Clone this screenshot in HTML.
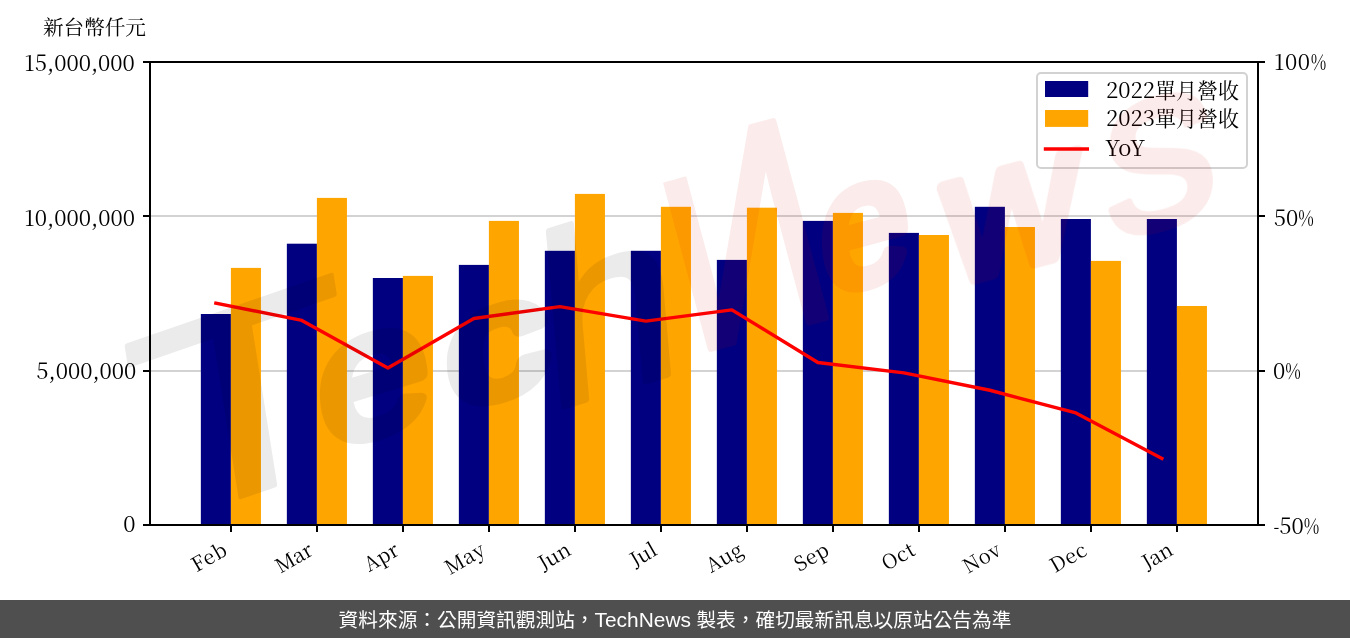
<!DOCTYPE html>
<html lang="zh-Hant"><head><meta charset="utf-8"><title>TechNews chart</title>
<style>
html,body{margin:0;padding:0;background:#fff;}
body{width:1350px;height:638px;overflow:hidden;position:relative;}
svg{position:absolute;left:0;top:0;display:block;}
svg text{font-family:'Noto Serif CJK SC','Liberation Serif',serif;fill:#000;}
.lat{font-size:22.0px;} .cjk{font-size:20.6px;}
#footer{position:absolute;left:0;top:600px;width:1350px;height:38px;background:#4f4f4f;color:#fff;text-align:center;font-family:'Liberation Sans','Noto Sans CJK TC',sans-serif;font-size:19.7px;line-height:40px;white-space:nowrap;}
</style></head><body>
<svg width="1350" height="600" viewBox="0 0 1350 600">
<line x1="150.0" x2="1258.0" y1="371.00" y2="371.00" stroke="#d3d3d3" stroke-width="2"/>
<line x1="150.0" x2="1258.0" y1="216.00" y2="216.00" stroke="#d3d3d3" stroke-width="2"/>
<rect x="200.85" y="314" width="30.05" height="211.00" fill="#000080"/>
<rect x="230.90" y="267.9" width="30.05" height="257.10" fill="#ffa500"/>
<rect x="286.85" y="243.7" width="30.05" height="281.30" fill="#000080"/>
<rect x="316.90" y="197.9" width="30.05" height="327.10" fill="#ffa500"/>
<rect x="372.85" y="278" width="30.05" height="247.00" fill="#000080"/>
<rect x="402.90" y="275.9" width="30.05" height="249.10" fill="#ffa500"/>
<rect x="458.85" y="264.9" width="30.05" height="260.10" fill="#000080"/>
<rect x="488.90" y="220.9" width="30.05" height="304.10" fill="#ffa500"/>
<rect x="544.85" y="250.8" width="30.05" height="274.20" fill="#000080"/>
<rect x="574.90" y="193.9" width="30.05" height="331.10" fill="#ffa500"/>
<rect x="630.85" y="250.8" width="30.05" height="274.20" fill="#000080"/>
<rect x="660.90" y="206.8" width="30.05" height="318.20" fill="#ffa500"/>
<rect x="716.85" y="259.9" width="30.05" height="265.10" fill="#000080"/>
<rect x="746.90" y="207.7" width="30.05" height="317.30" fill="#ffa500"/>
<rect x="802.85" y="220.9" width="30.05" height="304.10" fill="#000080"/>
<rect x="832.90" y="212.9" width="30.05" height="312.10" fill="#ffa500"/>
<rect x="888.85" y="232.9" width="30.05" height="292.10" fill="#000080"/>
<rect x="918.90" y="235" width="30.05" height="290.00" fill="#ffa500"/>
<rect x="974.85" y="206.8" width="30.05" height="318.20" fill="#000080"/>
<rect x="1004.90" y="227" width="30.05" height="298.00" fill="#ffa500"/>
<rect x="1060.85" y="219" width="30.05" height="306.00" fill="#000080"/>
<rect x="1090.90" y="260.9" width="30.05" height="264.10" fill="#ffa500"/>
<rect x="1146.85" y="219" width="30.05" height="306.00" fill="#000080"/>
<rect x="1176.90" y="306" width="30.05" height="219.00" fill="#ffa500"/>
<polyline fill="none" stroke="#ff0000" stroke-width="3.4" stroke-linejoin="round" stroke-linecap="square" points="215.88,303.23 301.88,320.41 387.88,368.04 473.88,318.45 559.88,306.61 645.88,321.14 731.88,309.89 817.88,362.55 903.88,372.89 989.88,390.26 1075.88,412.93 1161.88,458.42"/>
<rect x="150.0" y="62.0" width="1108.0" height="463.0" fill="none" stroke="#000" stroke-width="2"/>
<line x1="231.00" x2="231.00" y1="526.0" y2="532.0" stroke="#000" stroke-width="2"/>
<line x1="317.00" x2="317.00" y1="526.0" y2="532.0" stroke="#000" stroke-width="2"/>
<line x1="403.00" x2="403.00" y1="526.0" y2="532.0" stroke="#000" stroke-width="2"/>
<line x1="489.00" x2="489.00" y1="526.0" y2="532.0" stroke="#000" stroke-width="2"/>
<line x1="575.00" x2="575.00" y1="526.0" y2="532.0" stroke="#000" stroke-width="2"/>
<line x1="661.00" x2="661.00" y1="526.0" y2="532.0" stroke="#000" stroke-width="2"/>
<line x1="747.00" x2="747.00" y1="526.0" y2="532.0" stroke="#000" stroke-width="2"/>
<line x1="833.00" x2="833.00" y1="526.0" y2="532.0" stroke="#000" stroke-width="2"/>
<line x1="919.00" x2="919.00" y1="526.0" y2="532.0" stroke="#000" stroke-width="2"/>
<line x1="1005.00" x2="1005.00" y1="526.0" y2="532.0" stroke="#000" stroke-width="2"/>
<line x1="1091.00" x2="1091.00" y1="526.0" y2="532.0" stroke="#000" stroke-width="2"/>
<line x1="1177.00" x2="1177.00" y1="526.0" y2="532.0" stroke="#000" stroke-width="2"/>
<line x1="143.0" x2="149.0" y1="525.00" y2="525.00" stroke="#000" stroke-width="2"/>
<line x1="1259.0" x2="1265.0" y1="525.00" y2="525.00" stroke="#000" stroke-width="2"/>
<text class="lat" x="135.5" y="532.30" text-anchor="end">0</text>
<text class="lat" x="1273.5" y="534.40"><tspan><tspan textLength="5.8" lengthAdjust="spacingAndGlyphs">-</tspan>50</tspan><tspan textLength="15.6" lengthAdjust="spacingAndGlyphs">%</tspan></text>
<line x1="143.0" x2="149.0" y1="371.00" y2="371.00" stroke="#000" stroke-width="2"/>
<line x1="1259.0" x2="1265.0" y1="371.00" y2="371.00" stroke="#000" stroke-width="2"/>
<text class="lat" x="136.4" y="378.60" text-anchor="end">5,000,000</text>
<text class="lat" x="1273.0" y="379.40"><tspan>0</tspan><tspan textLength="15.6" lengthAdjust="spacingAndGlyphs">%</tspan></text>
<line x1="143.0" x2="149.0" y1="216.00" y2="216.00" stroke="#000" stroke-width="2"/>
<line x1="1259.0" x2="1265.0" y1="216.00" y2="216.00" stroke="#000" stroke-width="2"/>
<text class="lat" x="134.9" y="225.50" text-anchor="end">10,000,000</text>
<text class="lat" x="1273.8" y="225.70"><tspan>50</tspan><tspan textLength="15.6" lengthAdjust="spacingAndGlyphs">%</tspan></text>
<line x1="143.0" x2="149.0" y1="62.00" y2="62.00" stroke="#000" stroke-width="2"/>
<line x1="1259.0" x2="1265.0" y1="62.00" y2="62.00" stroke="#000" stroke-width="2"/>
<text class="lat" x="134.9" y="71.10" text-anchor="end">15,000,000</text>
<text class="lat" x="1273.9" y="70.10"><tspan letter-spacing="0.65">100</tspan><tspan textLength="15.6" lengthAdjust="spacingAndGlyphs">%</tspan></text>
<text transform="translate(229.28,553.55) rotate(-30)" font-size="20" text-anchor="end" letter-spacing="0.9">Feb</text>
<text transform="translate(314.50,554.00) rotate(-30)" font-size="20" text-anchor="end">Mar</text>
<text transform="translate(400.76,553.85) rotate(-30)" font-size="20" text-anchor="end" letter-spacing="0.3">Apr</text>
<text transform="translate(487.02,553.70) rotate(-30)" font-size="20" text-anchor="end" letter-spacing="0.6">May</text>
<text transform="translate(572.50,554.00) rotate(-30)" font-size="20" text-anchor="end">Jun</text>
<text transform="translate(658.50,554.00) rotate(-30)" font-size="20" text-anchor="end">Jul</text>
<text transform="translate(744.76,553.85) rotate(-30)" font-size="20" text-anchor="end" letter-spacing="0.3">Aug</text>
<text transform="translate(831.02,553.70) rotate(-30)" font-size="20" text-anchor="end" letter-spacing="0.6">Sep</text>
<text transform="translate(916.85,553.80) rotate(-30)" font-size="20" text-anchor="end" letter-spacing="0.4">Oct</text>
<text transform="translate(1003.02,553.70) rotate(-30)" font-size="20" text-anchor="end" letter-spacing="0.6">Nov</text>
<text transform="translate(1089.20,553.60) rotate(-30)" font-size="20" text-anchor="end" letter-spacing="0.8">Dec</text>
<text transform="translate(1174.50,554.00) rotate(-30)" font-size="20" text-anchor="end">Jan</text>
<text class="cjk" x="43" y="34.5">新台幣仟元</text>
<rect x="1037" y="73" width="210" height="95" rx="4" ry="4" fill="#fff" fill-opacity="0.8" stroke="#d2d2d2" stroke-width="2"/>
<rect x="1045" y="81" width="43.2" height="16" fill="#000080"/>
<rect x="1045" y="110" width="43.2" height="16.9" fill="#ffa500"/>
<line x1="1043.8" x2="1089" y1="149" y2="149" stroke="#ff0000" stroke-width="3.5"/>
<text x="1106" y="97.7"><tspan class="lat">2022</tspan><tspan font-size="21">單月營收</tspan></text>
<text x="1106" y="126.4"><tspan class="lat">2023</tspan><tspan font-size="21">單月營收</tspan></text>
<text class="lat" x="1105" y="156.4" letter-spacing="0.4">YoY</text>
<defs><clipPath id="ncl" clipPathUnits="userSpaceOnUse"><polygon points="600,200.5 728,164.6 728,60 1300,60 1300,560 600,560"/></clipPath></defs>
<g opacity="0.08" fill="#000" stroke="#000" stroke-linejoin="round" stroke-linecap="round" text-anchor="middle">
<text transform="translate(243,397) rotate(-19) skewX(-10) scale(1.45,1)" x="0" y="94.1" font-size="262.8" style="font-family:'Liberation Sans',sans-serif;fill:#000;stroke-width:3.8">T</text>
<text transform="translate(374,386) rotate(-17) skewX(-12) scale(1.2,1)" x="0" y="46.0" font-size="173.5" style="font-family:'Liberation Sans',sans-serif;fill:#000;stroke-width:12.0">e</text>
<text transform="translate(497,354) rotate(-17) skewX(-12) scale(1.35,1)" x="0" y="40.5" font-size="153.0" style="font-family:'Liberation Sans',sans-serif;fill:#000;stroke-width:13.9">c</text>
<text transform="translate(608,304) rotate(-17) skewX(-12) scale(1.08,1)" x="0" y="84.9" font-size="237.2" style="font-family:'Liberation Sans',sans-serif;fill:#000;stroke-width:6.2">h</text>
</g>
<g opacity="0.08" fill="#d8000c" stroke="#d8000c" stroke-linejoin="round" stroke-linecap="round" text-anchor="middle">
<g clip-path="url(#ncl)"><text transform="translate(741,231) rotate(-15) skewX(0) scale(-0.73,1)" x="0" y="104.8" font-size="292.8" style="font-family:'Liberation Sans',sans-serif;fill:#d8000c;stroke-width:8.3">N</text></g>
<text transform="translate(865,236) rotate(-15) skewX(-12) scale(0.95,1)" x="0" y="45.5" font-size="171.7" style="font-family:'Liberation Sans',sans-serif;fill:#d8000c;stroke-width:13.0">e</text>
<text transform="translate(1012,219) rotate(-15) skewX(-12) scale(1.05,1)" x="0" y="48.4" font-size="182.6" style="font-family:'Liberation Sans',sans-serif;fill:#d8000c;stroke-width:11.2">w</text>
<text transform="translate(1160,163) rotate(-15) skewX(-12) scale(1.0,1)" x="0" y="61.7" font-size="232.9" style="font-family:'Liberation Sans',sans-serif;fill:#d8000c;stroke-width:6.6">s</text>
</g>
</svg>
<div id="footer">資料來源：公開資訊觀測站，<span style="font-size:20.9px">TechNews</span> 製表，確切最新訊息以原站公告為準</div>
</body></html>
